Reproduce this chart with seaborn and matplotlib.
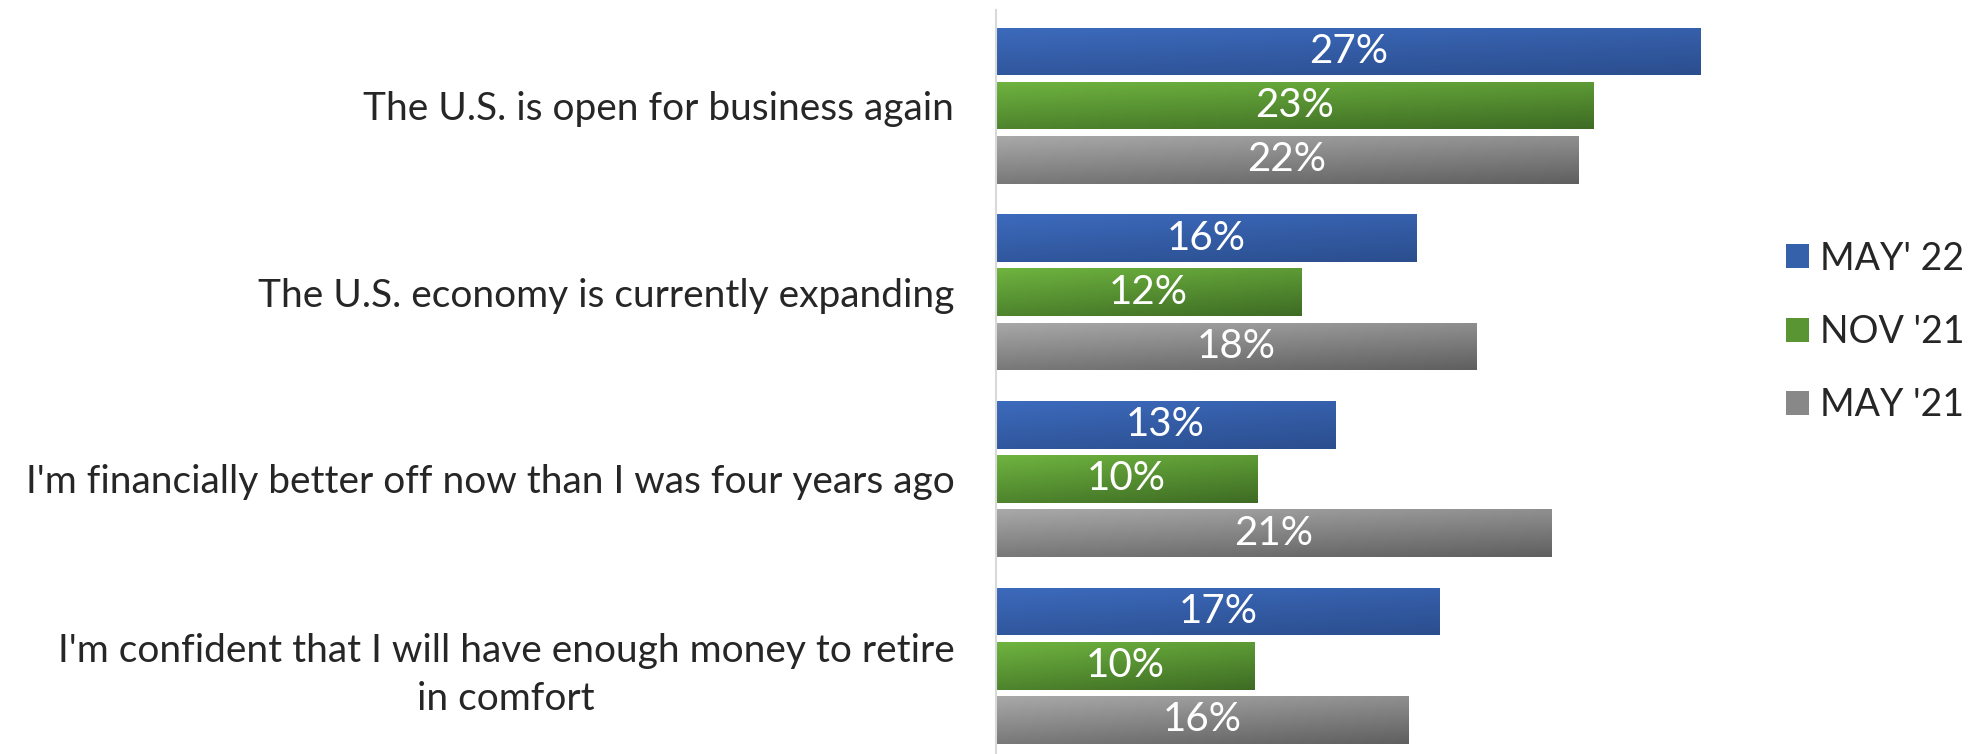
import numpy as np
import pandas as pd
import matplotlib
matplotlib.use("Agg")
import matplotlib.pyplot as plt
import matplotlib.patches as mpatches
from matplotlib.colors import to_rgb
import seaborn as sns

sns.set_style("white")
plt.rcParams['font.family'] = ['Lato', 'DejaVu Sans']

statements = [
    "The U.S. is open for business again",
    "The U.S. economy is currently expanding",
    "I'm financially better off now than I was four years ago",
    "I'm confident that I will have enough money to retire\nin comfort",
]
periods = ["MAY' 22", "NOV '21", "MAY '21"]
may_22 = [27.0, 16.1, 13.0, 17.0]
nov_21 = [22.9, 11.7, 10.0, 9.9]
may_21 = [22.3, 18.4, 21.3, 15.8]

# light / dark ends of the gradient for each series
light = ["#3C6ABC", "#6EB33F", "#A8A8A8"]
dark = ["#2B4E8E", "#3E6C24", "#606060"]
mid = ["#3461AA", "#5A9533", "#888888"]

df = pd.DataFrame({
    "statement": statements * 3,
    "period": np.repeat(periods, len(statements)),
    "value": may_22 + nov_21 + may_21,
})

fig = plt.figure(figsize=(19.71, 7.54), dpi=100)
ax = fig.add_axes([996 / 1971, 0.0, (1706 - 996) / 1971, 744 / 754])

sns.barplot(data=df, y="statement", x="value", hue="period", hue_order=periods,
            order=statements, orient="h", palette=mid, width=0.87, gap=0.12,
            legend=False, ax=ax)

# gradient fill clipped to each bar
for i, cont in enumerate(ax.containers):
    c0 = np.array(to_rgb(light[i]))
    c1 = np.array(to_rgb(dark[i]))
    for p in cont.patches:
        x0, y0 = p.get_x(), p.get_y()
        w, h = p.get_width(), p.get_height()
        u = np.linspace(0, 1, 80)[None, :]
        v = np.linspace(0, 1, 20)[:, None]
        t = 0.35 * u + 0.65 * v
        img = c0[None, None, :] * (1 - t[..., None]) + c1[None, None, :] * t[..., None]
        im = ax.imshow(img, extent=(x0, x0 + w, y0 + h, y0), aspect="auto",
                       origin="upper", zorder=p.get_zorder(), interpolation="bilinear")
        im.set_clip_path(p)
        p.set_facecolor("none")
        p.set_edgecolor("none")
    ax.bar_label(cont, labels=[f"{v:.0f}%" for v in cont.datavalues],
                 label_type="center", color="white", fontsize=29, zorder=5)

ax.set_xlim(0, 27.2)
ax.set_ylim(3.473, -0.512)

ax.set_xlabel("")
ax.set_ylabel("")
ax.set_xticks([])
ax.tick_params(axis="y", length=0, pad=30, labelsize=28)
for lab in ax.get_yticklabels():
    lab.set_multialignment("center")
    lab.set_linespacing(1.4)
for s in ["top", "right", "bottom"]:
    ax.spines[s].set_visible(False)
ax.spines["left"].set_color("#D9D9D9")
ax.spines["left"].set_linewidth(1.5)

handles = [mpatches.Patch(facecolor=c, edgecolor="none") for c in mid]
fig.legend(handles, periods, loc="center left", bbox_to_anchor=(1786 / 1971, 1 - 332 / 754),
           frameon=False, fontsize=27, handlelength=0.62, handleheight=0.62,
           handletextpad=0.3, labelspacing=1.0, borderaxespad=0, borderpad=0)

fig.savefig("out.png", dpi=100)
